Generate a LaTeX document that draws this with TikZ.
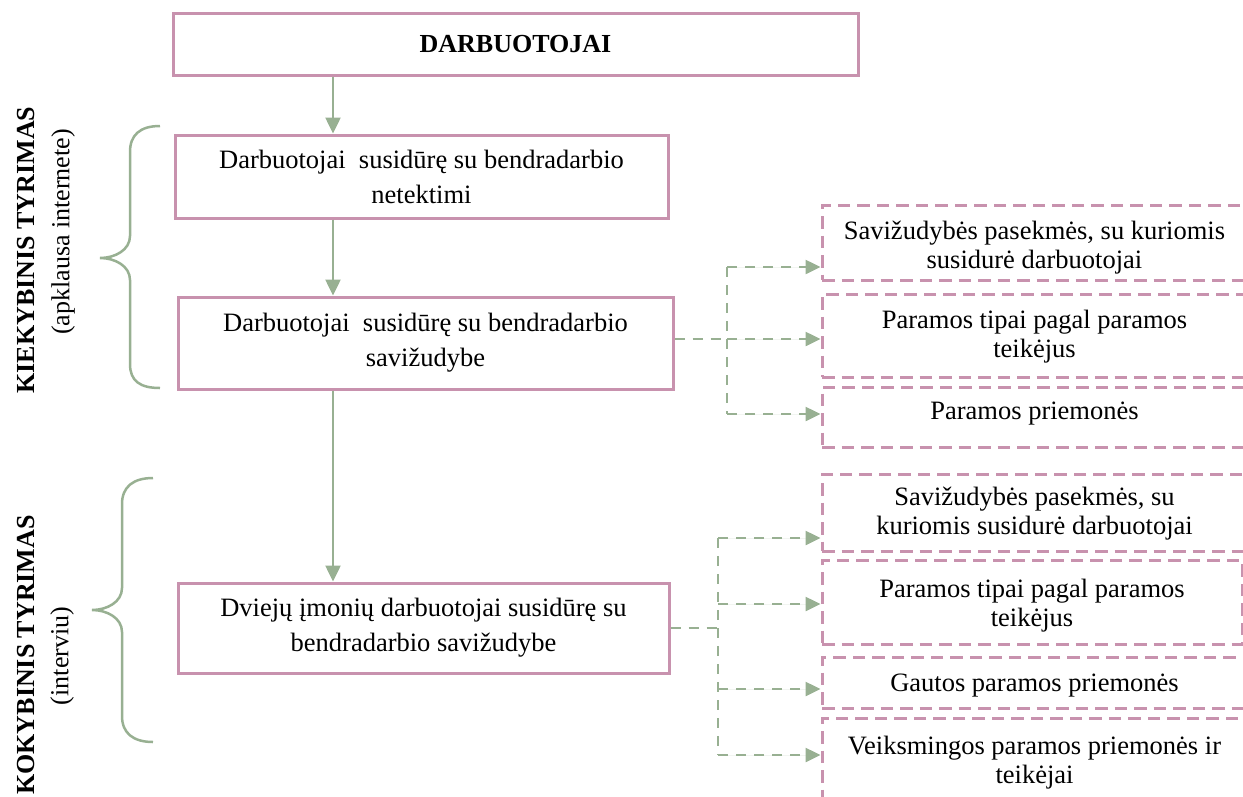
\documentclass[tikz,border=0pt]{standalone}
\usepackage{fontspec}
\setmainfont{Liberation Serif}
\usepackage{xcolor}
\usepackage{tikz}
\usetikzlibrary{arrows.meta, positioning}

\definecolor{pinkline}{RGB}{200,146,174}
\definecolor{greenline}{RGB}{152,176,146}

\begin{document}
\begin{tikzpicture}[
  x=1pt, y=-1pt,
  font=\fontsize{26.5}{35}\selectfont,
  mainbox/.style={draw=pinkline, line width=3pt, align=center, inner sep=0pt},
  sidebox/.style={draw=pinkline, line width=3pt, dash pattern=on 12.5pt off 7pt, minimum width=425pt, inner sep=0pt},
  sidetext/.style={align=center, anchor=north, inner sep=0pt, font=\fontsize{26.5}{29}\selectfont},
  arrow/.style={-{Triangle[length=16pt, width=15pt]}, draw=greenline, fill=greenline, line width=2.5pt},
  link/.style={draw=greenline, line width=2.5pt, dash pattern=on 10pt off 8pt},
  dlink/.style={link, -{Triangle[length=15pt, width=14pt]}, fill=greenline},
  brace/.style={draw=greenline, line width=2.5pt},
  side/.style={rotate=90, inner sep=0pt},
]
\useasboundingbox (0,0) rectangle (1243,796);

% ============ LEFT: study labels ============
\node[side, font=\fontsize{26}{30}\selectfont\bfseries] (quant) at (26,250) {KIEKYBINIS TYRIMAS};
\node[side, font=\fontsize{26}{30}\selectfont] (quantsub) at (63,232) {(apklausa internete)};
\node[side, font=\fontsize{26}{30}\selectfont\bfseries] (qual) at (26,655) {KOKYBINIS TYRIMAS};
\node[side, font=\fontsize{26}{30}\selectfont] (qualsub) at (62,656) {(interviu)};

\draw[brace] (160,126) .. controls (140,126) and (130,135) .. (130,152) -- (130,236)
  .. controls (130,250) and (115,258) .. (100,258) .. controls (115,258) and (130,266) .. (130,280)
  -- (130,364) .. controls (130,381) and (140,388) .. (160,388);
\draw[brace] (153,478) .. controls (133,478) and (122,487) .. (122,504) -- (122,588)
  .. controls (122,602) and (107,610) .. (92,610) .. controls (107,610) and (122,618) .. (122,632)
  -- (122,716) .. controls (122,733) and (133,742) .. (153,742);

% ============ MIDDLE: main chain ============
\node[mainbox, minimum width=685pt, minimum height=62pt, font=\fontsize{26}{35}\selectfont\bfseries] (top) at (515.5,44) {DARBUOTOJAI};
\node[mainbox, minimum width=493pt, minimum height=83pt] (loss) at (421.5,176.5)
  {Darbuotojai \ susidūrę su bendradarbio\\netektimi};
\node[mainbox, minimum width=495pt, minimum height=92pt] (suic) at (425.5,343)
  {Darbuotojai \ susidūrę su bendradarbio\\savižudybe};
\node[mainbox, minimum width=491pt, minimum height=90pt] (firm) at (423.5,628)
  {Dviejų įmonių darbuotojai susidūrę su\\bendradarbio savižudybe};

\coordinate (stem) at (333,0);
\draw[arrow] (top.south -| stem) -- (loss.north -| stem);
\draw[arrow] (loss.south -| stem) -- (suic.north -| stem);
\draw[arrow] (suic.south -| stem) -- (firm.north -| stem);

% ============ RIGHT: quantitative results ============
\node[sidebox, minimum height=75pt] (s1) at (1034.5,242.5) {};
\node[sidebox, minimum height=83pt] (s2) at (1034.5,335.5) {};
\node[sidebox, minimum height=60pt] (s3) at (1034.5,417) {};
\node[sidetext, below=17pt of s1.north] (s1t) {Savižudybės pasekmės, su kuriomis\\susidurė darbuotojai};
\node[sidetext, below=17pt of s2.north] (s2t) {Paramos tipai pagal paramos\\teikėjus};
\node[sidetext, below=16pt of s3.north] (s3t) {Paramos priemonės};

\coordinate (ja) at (727,267);
\coordinate (jb) at (727,339);
\coordinate (jc) at (727,414);
\draw[link] (suic.east |- jb) -- (jb);
\draw[link] (ja) -- (jc);
\draw[dlink] (ja) -- (ja -| s1.west);
\draw[dlink] (jb) -- (jb -| s2.west);
\draw[dlink] (jc) -- (jc -| s3.west);

% ============ RIGHT: qualitative results ============
\node[sidebox, minimum height=77pt] (s4) at (1034.5,512.5) {};
\node[sidebox, minimum height=84pt, minimum width=420pt] (s5) at (1032,602) {};
\node[sidebox, minimum height=51pt] (s6) at (1034.5,682.5) {};
\node[sidebox, minimum height=112pt] (s7) at (1034.5,774) {};
\node[sidetext, below=14pt of s4.north] (s4t) {Savižudybės pasekmės, su\\kuriomis susidurė darbuotojai};
\node[sidetext, below=20pt of s5.north] (s5t) {Paramos tipai pagal paramos\\teikėjus};
\node[sidetext, below=18pt of s6.north] (s6t) {Gautos paramos priemonės};
\node[sidetext, below=19pt of s7.north] (s7t) {Veiksmingos paramos priemonės ir\\teikėjai};

\coordinate (jd) at (718,538);
\coordinate (je) at (718,604);
\coordinate (jf) at (718,628);
\coordinate (jg) at (718,689);
\coordinate (jh) at (718,755);
\draw[link] (firm.east) -- (jf);
\draw[link] (jd) -- (jh);
\draw[dlink] (jd) -- (jd -| s4.west);
\draw[dlink] (je) -- (je -| s5.west);
\draw[dlink] (jg) -- (jg -| s6.west);
\draw[dlink] (jh) -- (jh -| s7.west);

\end{tikzpicture}
\end{document}
